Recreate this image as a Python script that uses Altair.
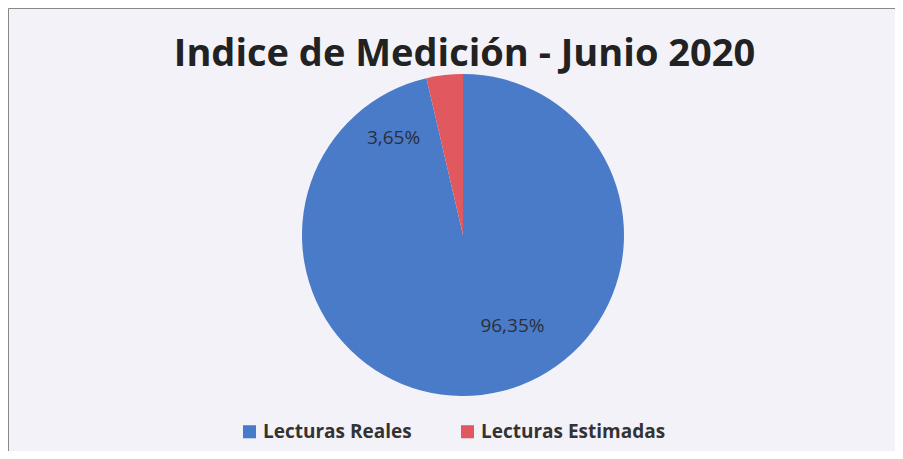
import altair as alt
import pandas as pd

categories = ["Lecturas Reales", "Lecturas Estimadas"]
values = [96.35, 3.65]
labels = ["96,35%", "3,65%"]
colors = ["#4A7BC9", "#E0595E"]

df = pd.DataFrame({"cat": categories, "value": values, "label": labels, "order": [0, 1]})

base = alt.Chart(df).encode(
    theta=alt.Theta("value:Q", stack=True),
    order=alt.Order("order:Q"),
)

pie = base.mark_arc(radius=161, stroke=None).encode(
    x=alt.value(455), y=alt.value(227),
    color=alt.Color(
        "cat:N",
        scale=alt.Scale(domain=categories, range=colors),
        sort=categories,
        legend=alt.Legend(
            title=None, orient="none", direction="horizontal",
            legendX=232, legendY=414, symbolType="square", symbolSize=170,
            labelFont="Open Sans", labelFontSize=19, labelFontWeight="bold",
            labelColor="#333", columnPadding=46, symbolStrokeWidth=0,
            labelLimit=400,
        ),
    ),
)

lab_blue = base.mark_text(radius=100, font="Open Sans", fontSize=19, color="#2b2f3a", dx=38, dy=-8).encode(
    x=alt.value(455), y=alt.value(227),
    text=alt.condition(alt.datum.cat == categories[0], "label:N", alt.value("")),
)
lab_red = base.mark_text(radius=100, font="Open Sans", fontSize=19, color="#2b2f3a", dx=-58, dy=2).encode(
    x=alt.value(455), y=alt.value(227),
    text=alt.condition(alt.datum.cat == categories[1], "label:N", alt.value("")),
)

chart = alt.layer(pie, lab_blue, lab_red).properties(
    width=887, height=443,
    autosize=alt.AutoSizeParams(type="none"),
    padding=0,
    background="#F3F2F9",
    title=alt.TitleParams(
        "Indice de Medición - Junio 2020", font="Open Sans", fontSize=38,
        fontWeight="bold", color="#222", anchor="middle", dy=70, dx=13,
    ),
).configure_view(stroke="#888", strokeWidth=1)

chart.save("out.html", embed_options={"renderer": "svg", "actions": False})
